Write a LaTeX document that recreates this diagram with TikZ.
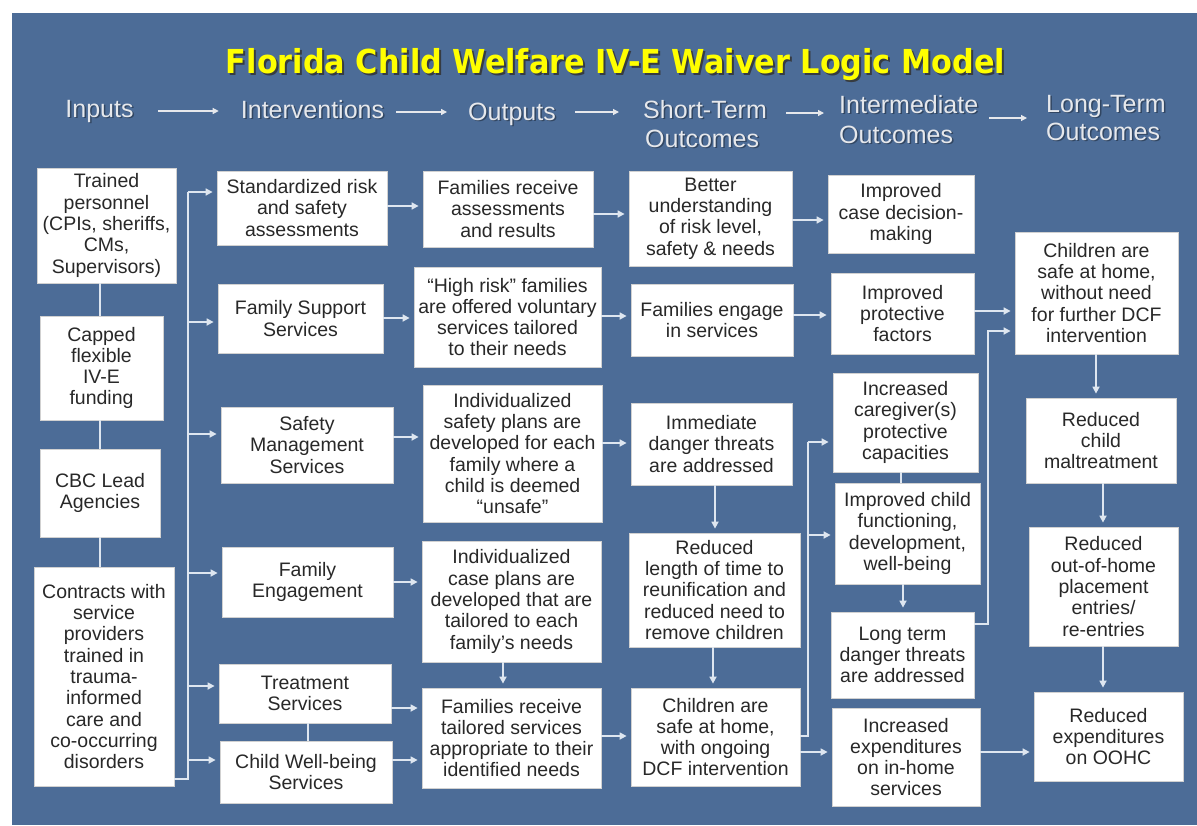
\documentclass[tikz,border=0pt]{standalone}
\usepackage{graphicx}
\usepackage{fontspec}
\setmainfont{Liberation Sans}
\newfontfamily\titlefont{DejaVu Sans}
\usetikzlibrary{arrows.meta}
\definecolor{bg}{RGB}{76,108,151}
\definecolor{ln}{RGB}{222,230,240}
\definecolor{tx}{RGB}{40,40,40}
\definecolor{hd}{RGB}{230,232,236}
\definecolor{ttl}{RGB}{255,255,0}
\newcommand\titletext{\resizebox{779pt}{\height}{\titlefont\bfseries\fontsize{33}{36}\selectfont Florida Child Welfare IV-E Waiver Logic Model}}
\newcommand\mybox[6]{\node[bx,minimum width=#4pt,minimum height=#5pt] (#1) at (#2,#3) {#6};}
\tikzset{
  bx/.style={draw=black!18, line width=0.8pt, fill=white, text=tx, align=center, inner sep=1pt,
    font=\fontsize{19.5}{21.3}\selectfont},
  cn/.style={draw=ln, line width=1.6pt},
  ar/.style={cn, -{Triangle[length=7pt,width=7pt]}, shorten >=4pt},
  hdr/.style={text=hd, font=\fontsize{25}{29}\selectfont, inner sep=0pt},
  hdrsh/.style={text=black, opacity=0.35, font=\fontsize{25}{29}\selectfont, inner sep=0pt},
  har/.style={draw=hd, line width=1.2pt, -{Triangle[length=6pt,width=6pt]}},
}
\begin{document}
\begin{tikzpicture}[x=1pt,y=-1pt]
\useasboundingbox (0,0) rectangle (1197,825);
\fill[white] (0,0) rectangle (1197,825);
\fill[bg] (12,13) rectangle (1197,825);

% title
\node[anchor=base, text=black!80, opacity=0.85, inner sep=0pt] (tsh) at (617.5,75.5) {\titletext};
\node[anchor=base, text=ttl, inner sep=0pt] (title) at (615.5,73.5) {\titletext};

% headers (shadows)
\node[hdrsh, anchor=base] (hinS) at (101,118.5) {Inputs};
\node[hdrsh, anchor=base] (hintS) at (314,119.5) {Interventions};
\node[hdrsh, anchor=base] (houtS) at (513.5,121.5) {Outputs};
\node[hdrsh, anchor=base west] (hstS) at (644.5,119.5) {Short-Term};
\node[hdrsh, anchor=base west] (hst2S) at (646.5,148.5) {Outcomes};
\node[hdrsh, anchor=base west] (himS) at (840.5,114.5) {Intermediate};
\node[hdrsh, anchor=base west] (him2S) at (840.5,144.5) {Outcomes};
\node[hdrsh, anchor=base west] (hltS) at (1047.5,113.5) {Long-Term};
\node[hdrsh, anchor=base west] (hlt2S) at (1047.5,141.5) {Outcomes};
% headers
\node[hdr, anchor=base] (hin) at (99.5,117) {Inputs};
\node[hdr, anchor=base] (hint) at (312.5,118) {Interventions};
\node[hdr, anchor=base] (hout) at (512,120) {Outputs};
\node[hdr, anchor=base west] (hst) at (643,118) {Short-Term};
\node[hdr, anchor=base west] (hst2) at (645,147) {Outcomes};
\node[hdr, anchor=base west] (him) at (839,113) {Intermediate};
\node[hdr, anchor=base west] (him2) at (839,143) {Outcomes};
\node[hdr, anchor=base west] (hlt) at (1046,112) {Long-Term};
\node[hdr, anchor=base west] (hlt2) at (1046,140) {Outcomes};

\draw[har, shorten <=24pt, shorten >=22pt] (hin.east |- 0,111) -- (hint.west |- 0,111);
\draw[har, shorten <=12pt, shorten >=21pt] (hint.east |- 0,112) -- (hout.west |- 0,112);
\draw[har, shorten <=19pt, shorten >=24pt] (hout.east |- 0,112) -- (hst.west |- 0,112);
\draw[har, shorten <=19pt, shorten >=15pt] (hst.east |- 0,113) -- (him.west |- 0,113);
\draw[har, shorten <=11pt, shorten >=19pt] (him.east |- 0,118) -- (hlt.west |- 0,118);

% column 1: inputs
\mybox{tp}{106.5}{225.5}{139}{115}{Trained\\personnel\\(CPIs, sheriffs,\\CMs,\\Supervisors)}
\mybox{cap}{101.5}{368}{123}{104}{Capped\\flexible\\IV-E\\funding}
\mybox{cbc}{100}{493}{120}{88}{CBC Lead\\Agencies}
\mybox{con}{104}{676.5}{140}{219}{Contracts with\\service\\providers\\trained in\\trauma-\\informed\\care and\\co-occurring\\disorders}

% column 2: interventions
\mybox{std}{302}{208}{170}{74}{Standardized risk\\and safety\\assessments}
\mybox{fss}{300.5}{318.5}{165}{69}{Family Support\\Services}
\mybox{sms}{307}{445}{172}{76}{Safety\\Management\\Services}
\mybox{fe}{307.5}{582}{171}{70}{Family\\Engagement}
\mybox{ts}{305}{693.5}{172}{59}{Treatment\\Services}
\mybox{cwb}{306}{772}{172}{62}{Child Well-being\\Services}

% column 3: outputs
\mybox{fra}{508}{209}{170}{76}{Families receive\\assessments\\and results}
\mybox{hr}{507.5}{317}{187}{100}{“High risk” families\\are offered voluntary\\services tailored\\to their needs}
\mybox{isp}{512.5}{453.5}{179}{137}{Individualized\\safety plans are\\developed for each\\family where a\\child is deemed\\“unsafe”}
\mybox{icp}{511.5}{601.5}{179}{121}{Individualized\\case plans are\\developed that are\\tailored to each\\family’s needs}
\mybox{fts}{511.5}{738}{179}{100}{Families receive\\tailored services\\appropriate to their\\identified needs}

% column 4: short-term outcomes
\mybox{bu}{710.5}{218.5}{163}{95}{Better\\understanding\\of risk level,\\safety \& needs}
\mybox{fes}{712}{320}{162}{72}{Families engage\\in services}
\mybox{idt}{711.5}{444}{161}{82}{Immediate\\danger threats\\are addressed}
\mybox{rl}{714.5}{590}{171}{114}{Reduced\\length of time to\\reunification and\\reduced need to\\remove children}
\mybox{csw}{715.5}{737}{169}{98}{Children are\\safe at home,\\with ongoing\\DCF intervention}

% column 5: intermediate outcomes
\mybox{icd}{901}{214}{146}{78}{Improved\\case decision-\\making}
\mybox{ipf}{902.5}{313.5}{143}{81}{Improved\\protective\\factors}
\mybox{icc}{905.5}{422.5}{145}{99}{Increased\\caregiver(s)\\protective\\capacities}
\mybox{icf}{907.5}{533.5}{145}{101}{Improved child\\functioning,\\development,\\well-being}
\mybox{ltd}{902.5}{655}{143}{86}{Long term\\danger threats\\are addressed}
\mybox{iex}{906}{757}{148}{98}{Increased\\expenditures\\on in-home\\services}

% column 6: long-term outcomes
\mybox{csn}{1096.5}{293}{163}{122}{Children are\\safe at home,\\without need\\for further DCF\\intervention}
\mybox{rcm}{1101}{440.5}{150}{85}{Reduced\\child\\maltreatment}
\mybox{roh}{1103.5}{586.5}{149}{119}{Reduced\\out-of-home\\placement\\entries/\\re-entries}
\mybox{rex}{1108.5}{736.5}{149}{89}{Reduced\\expenditures\\on OOHC}

% inputs spine
\coordinate (inx) at (100,0);
\draw[cn] (inx |- tp.south) -- (inx |- cap.north);
\draw[cn] (inx |- cap.south) -- (inx |- cbc.north);
\draw[cn] (inx |- cbc.south) -- (inx |- con.north);

% bus to interventions
\coordinate (bus) at (188,0);
\draw[cn] (con.east |- 0,779) -- (bus |- 0,779) -- (bus |- 0,192);
\draw[ar] (bus |- 0,192) -- (std.west |- 0,192);
\draw[ar] (bus |- 0,322) -- (fss.west |- 0,322);
\draw[ar] (bus |- 0,434) -- (sms.west |- 0,434);
\draw[ar] (bus |- 0,573) -- (fe.west |- 0,573);
\draw[ar] (bus |- 0,686) -- (ts.west |- 0,686);
\draw[ar] (bus |- 0,760) -- (cwb.west |- 0,760);
\draw[cn] (ts.south -| 308,0) -- (cwb.north -| 308,0);

% interventions -> outputs
\draw[ar] (std.east |- 0,206) -- (fra.west |- 0,206);
\draw[ar] (fss.east |- 0,318) -- (hr.west |- 0,318);
\draw[ar] (sms.east |- 0,437) -- (isp.west |- 0,437);
\draw[ar] (fe.east |- 0,582) -- (icp.west |- 0,582);
\draw[ar] (ts.east |- 0,708) -- (fts.west |- 0,708);
\draw[ar] (cwb.east |- 0,760) -- (fts.west |- 0,760);
\draw[ar] (icp.south -| 503,0) -- (fts.north -| 503,0);

% outputs -> short-term
\draw[ar] (fra.east |- 0,214) -- (bu.west |- 0,214);
\draw[ar] (hr.east |- 0,316) -- (fes.west |- 0,316);
\draw[ar] (isp.east |- 0,443) -- (idt.west |- 0,443);
\draw[ar] (fts.east |- 0,736) -- (csw.west |- 0,736);
\draw[ar] (idt.south -| 715,0) -- (rl.north -| 715,0);
\draw[ar] (rl.south -| 713,0) -- (csw.north -| 713,0);

% short-term -> intermediate
\draw[ar] (bu.east |- 0,220) -- (icd.west |- 0,220);
\draw[ar] (fes.east |- 0,315) -- (ipf.west |- 0,315);
\coordinate (b5) at (808,0);
\draw[cn] (csw.east |- 0,736) -- (b5 |- 0,736) -- (b5 |- 0,442);
\draw[ar] (b5 |- 0,442) -- (icc.west |- 0,442);
\draw[ar] (b5 |- 0,535) -- (icf.west |- 0,535);
\draw[ar] (csw.east |- 0,752) -- (iex.west |- 0,752);
\draw[cn] (icc.south -| 901,0) -- (icf.north -| 901,0);
\draw[ar] (icf.south -| 903,0) -- (ltd.north -| 903,0);

% intermediate -> long-term
\coordinate (b6) at (988,0);
\draw[ar] (ipf.east |- 0,311) -- (csn.west |- 0,311);
\draw[ar] (ltd.east |- 0,624) -- (b6 |- 0,624) -- (b6 |- 0,331) -- (csn.west |- 0,331);
\draw[ar] (iex.east |- 0,752) -- (rex.west |- 0,752);
\draw[ar] (csn.south -| 1096,0) -- (rcm.north -| 1096,0);
\draw[ar] (rcm.south -| 1103,0) -- (roh.north -| 1103,0);
\draw[ar] (roh.south -| 1103,0) -- (rex.north -| 1103,0);
\end{tikzpicture}
\end{document}
